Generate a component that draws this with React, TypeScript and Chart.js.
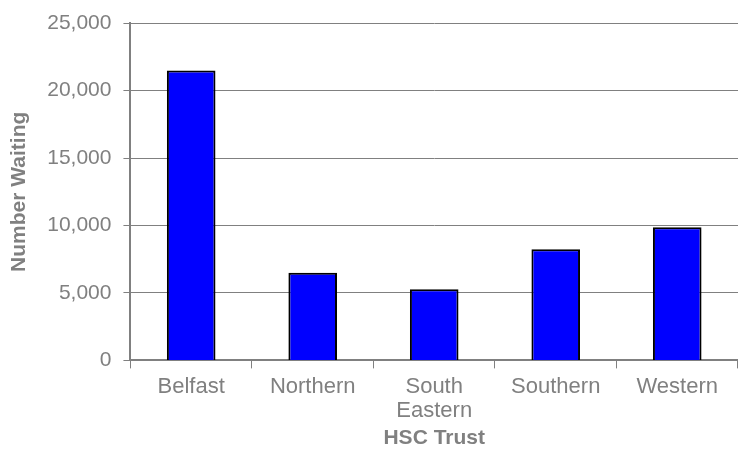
import React, { useEffect, useRef } from "react";
import { Chart, registerables } from "chart.js";

Chart.register(...registerables);

const categories: (string | string[])[] = ["Belfast", "Northern", ["South", "Eastern"], "Southern", "Western"];
const waiting: number[] = [21500, 6500, 5280, 8240, 9870];
const yTitle = "Number Waiting";
const xTitle = "HSC Trust";

const GRAY = "#808080";
const FONT = "'Liberation Sans', Arial, sans-serif";

export default function App() {
  const ref = useRef<HTMLCanvasElement | null>(null);
  useEffect(() => {
    if (!ref.current) return;
    const chart = new Chart(ref.current, {
      type: "bar",
      data: {
        labels: categories,
        datasets: [
          {
            data: waiting,
            backgroundColor: "#0000FF",
            borderColor: "#000000",
            borderWidth: 2,
            categoryPercentage: 1,
            barPercentage: 0.4,
          },
        ],
      },
      options: {
        animation: false,
        responsive: false,
        maintainAspectRatio: false,
        layout: { padding: { top: 0, right: 0, left: 7, bottom: 22.3 } },
        plugins: { legend: { display: false }, tooltip: { enabled: false } },
        scales: {
          x: {
            border: { display: true, color: GRAY, width: 2 },
            grid: { display: true, drawOnChartArea: false, color: GRAY, tickLength: 8, lineWidth: 1 },
            ticks: { color: GRAY, font: { family: FONT, size: 22, lineHeight: 1.1 }, padding: 6, maxRotation: 0, autoSkip: false },
            title: { display: true, text: xTitle, color: GRAY, font: { family: FONT, size: 21, weight: "bold", lineHeight: 0.9 }, padding: { top: 0, bottom: 0 } },
          },
          y: {
            min: 0,
            max: 25000,
            border: { display: true, color: GRAY, width: 2 },
            grid: { color: GRAY, lineWidth: 1, tickLength: 7 },
            ticks: {
              stepSize: 5000,
              color: GRAY,
              font: { family: FONT, size: 21, lineHeight: 1.07 },
              padding: 12,
              callback: (v: any) => Number(v).toLocaleString("en-US"),
            },
            title: { display: true, text: yTitle, color: GRAY, font: { family: FONT, size: 21, weight: "bold" }, padding: { top: 0, bottom: 3 } },
          },
        },
      },
    });
    return () => chart.destroy();
  }, []);
  return (
    <div style={{ position: "fixed", left: 0, top: 0, width: 738, height: 470, background: "#fff" }}>
      <canvas ref={ref} width={738} height={470} style={{ width: 738, height: 470 }} />
    </div>
  );
}
